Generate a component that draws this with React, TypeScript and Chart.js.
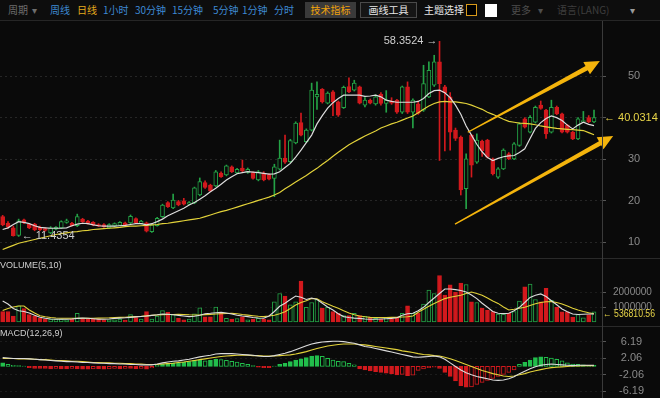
import React, { useEffect, useRef } from "react";
import { Chart, registerables } from "chart.js";

Chart.register(...registerables);

// ---------------- DATA ----------------
const categories = Array.from({ length: 113 }, (_, i) => `${i + 1}`);

const opens = [16.2, 14.6, 13.5, 11.7, 15.4, 14.4, 14.4, 13.7, 13.3, 12.3,
  13.2, 13.5, 14.8, 14.6, 14.0, 15.6, 15.1, 14.8, 14.3, 14.3,
  13.5, 13.9, 14.1, 14.7, 14.7, 15.7, 14.5, 14.7, 12.6, 14.0,
  16.2, 19.6, 18.3, 19.8, 20.0, 19.2, 19.5, 21.4, 24.4, 23.8,
  23.6, 26.7, 26.2, 28.2, 26.7, 27.9, 26.8, 26.8, 25.0, 26.7,
  26.3, 25.4, 27.6, 30.3, 29.4, 33.9, 38.8, 34.2, 37.0, 45.0,
  46.8, 43.5, 46.2, 43.8, 42.4, 47.5, 46.6, 47.4, 43.0, 44.2,
  43.3, 45.6, 43.4, 44.0, 44.2, 41.3, 47.4, 41.3, 43.3, 41.8,
  45.0, 47.8, 53.4, 47.4, 45.0, 37.0, 35.3, 22.9, 35.8, 29.3,
  34.3, 34.6, 30.1, 25.7, 27.7, 31.3, 30.1, 33.3, 39.7, 36.5,
  38.9, 43.0, 41.8, 36.5, 42.5, 40.9, 38.2, 36.5, 34.9, 39.0,
  40.0, 39.0];
const highs = [16.5, 15.0, 13.9, 15.6, 15.6, 14.6, 14.6, 13.9, 13.5, 13.8,
  13.8, 15.2, 15.6, 14.8, 16.8, 15.8, 15.3, 15.0, 14.5, 14.5,
  14.5, 14.7, 15.0, 14.9, 16.6, 15.9, 15.3, 14.9, 14.4, 16.0,
  19.2, 19.8, 21.6, 20.1, 20.6, 19.8, 23.3, 25.5, 24.8, 24.0,
  27.3, 27.0, 28.6, 28.4, 27.8, 29.8, 27.9, 27.0, 27.3, 27.0,
  26.5, 28.8, 34.6, 35.8, 34.8, 39.0, 41.1, 37.3, 48.3, 48.6,
  47.0, 46.2, 46.5, 44.0, 47.6, 49.6, 49.0, 47.6, 44.8, 44.5,
  45.5, 46.0, 46.5, 44.8, 44.4, 47.6, 48.6, 44.5, 44.0, 52.6,
  53.4, 55.0, 58.3524, 47.8, 46.0, 37.5, 35.6, 31.3, 36.0, 36.1,
  34.6, 34.8, 30.3, 28.0, 32.5, 31.6, 34.0, 38.8, 40.0, 40.5,
  42.8, 44.0, 42.0, 44.2, 42.8, 41.1, 38.4, 36.7, 40.0, 41.5,
  40.5, 41.8];
const lows = [14.0, 13.4, 11.5, 11.4354, 14.5, 13.3, 12.8, 12.8, 12.7, 12.1,
  13.0, 13.4, 14.6, 13.9, 13.8, 14.8, 14.4, 14.0, 13.8, 13.6,
  13.4, 13.8, 14.0, 14.0, 14.5, 14.5, 14.4, 12.5, 12.4, 13.9,
  16.0, 18.4, 18.1, 18.8, 19.0, 19.0, 19.3, 21.2, 23.0, 22.2,
  23.4, 25.6, 26.0, 26.8, 26.5, 27.0, 26.6, 25.2, 24.8, 24.8,
  25.0, 21.0, 27.4, 29.0, 29.2, 33.7, 35.6, 34.0, 36.8, 42.0,
  43.5, 43.3, 40.5, 40.3, 42.2, 46.0, 46.4, 43.3, 42.6, 43.3,
  43.0, 43.0, 41.3, 43.2, 41.0, 41.0, 41.0, 37.5, 40.8, 41.5,
  44.8, 47.5, 29.7, 32.0, 32.2, 34.5, 21.4, 18.1, 25.7, 29.0,
  30.7, 30.3, 26.2, 25.4, 27.5, 29.9, 29.9, 33.1, 37.5, 36.3,
  38.7, 42.0, 35.0, 36.3, 40.7, 36.3, 36.3, 34.7, 34.7, 38.8,
  38.8, 38.8];
const closes = [14.2, 13.7, 11.6, 15.2, 14.7, 13.5, 13.0, 13.0, 12.9, 13.5,
  13.6, 15.0, 15.2, 14.0, 16.2, 14.9, 14.6, 14.2, 13.9, 13.7,
  14.3, 14.5, 14.8, 14.1, 16.3, 14.7, 15.1, 12.7, 14.2, 15.8,
  19.0, 18.6, 20.2, 19.0, 19.2, 19.6, 23.1, 24.6, 23.2, 22.4,
  27.0, 25.8, 28.4, 27.0, 27.6, 27.2, 27.6, 25.4, 27.0, 25.0,
  25.2, 28.2, 30.3, 29.3, 34.5, 38.7, 35.8, 37.0, 46.6, 45.6,
  43.8, 45.9, 43.8, 40.6, 47.3, 46.2, 48.3, 43.5, 44.2, 43.5,
  45.0, 43.4, 44.2, 43.5, 41.3, 47.4, 41.3, 44.2, 41.0, 48.2,
  51.4, 53.4, 48.2, 46.0, 36.5, 35.0, 22.6, 30.1, 28.6, 34.6,
  32.0, 30.5, 26.5, 27.7, 32.2, 30.1, 33.7, 38.5, 37.7, 40.1,
  42.5, 42.2, 36.1, 42.5, 40.9, 36.5, 36.5, 34.9, 39.7, 39.3,
  39.0, 40.0314];

const priceMaFast = [13.1, 13.5, 14.3, 15.0, 14.8, 14.5, 14.0, 13.6, 13.5, 13.4,
  13.4, 13.4, 13.5, 14.0, 14.4, 14.6, 14.5, 14.2, 14.0, 13.9,
  13.9, 13.9, 14.0, 14.1, 14.3, 14.5, 14.5, 14.2, 14.5, 15.0,
  15.6, 16.4, 17.0, 17.6, 18.2, 19.0, 19.6, 20.4, 21.2, 22.2,
  23.0, 24.0, 25.0, 25.8, 26.5, 26.8, 27.0, 26.9, 26.8, 26.6,
  26.4, 26.5, 27.0, 28.0, 29.0, 30.5, 32.2, 34.0, 35.8, 38.5,
  40.5, 42.3, 43.6, 44.6, 45.4, 45.4, 45.4, 45.4, 45.1, 45.2,
  45.4, 45.0, 44.2, 43.9, 43.7, 43.7, 43.7, 43.7, 43.9, 44.6,
  45.8, 46.5, 46.6, 46.0, 44.8, 43.0, 40.8, 38.0, 35.8, 33.6,
  31.8, 30.4, 29.7, 30.2, 30.6, 30.8, 30.9, 31.6, 32.5, 35.0,
  37.4, 38.8, 39.8, 40.4, 40.0, 39.3, 38.2, 37.3, 38.2, 38.9,
  38.4, 38.1];
const priceMaSlow = [8.3, 8.8, 9.3, 9.8, 10.1, 10.4, 10.7, 11.0, 11.3, 11.6,
  11.9, 12.1, 12.3, 12.5, 12.6, 12.8, 12.9, 13.1, 13.2, 13.3,
  13.4, 13.5, 13.6, 13.8, 13.9, 13.9, 14.0, 14.1, 14.2, 14.3,
  14.5, 14.6, 14.8, 15.0, 15.2, 15.4, 15.6, 15.8, 16.2, 16.6,
  17.0, 17.4, 17.7, 18.1, 18.5, 18.9, 19.3, 19.7, 20.1, 20.5,
  20.9, 21.4, 22.0, 22.9, 23.7, 24.5, 25.3, 26.1, 27.0, 27.8,
  28.8, 29.7, 30.7, 31.7, 32.6, 33.5, 34.2, 34.9, 35.6, 36.2,
  36.8, 37.5, 38.0, 38.5, 38.9, 39.4, 39.9, 40.4, 41.2, 42.0,
  42.8, 43.4, 43.8, 43.9, 43.8, 43.8, 43.6, 43.4, 43.0, 42.5,
  42.0, 41.3, 40.8, 40.2, 39.6, 39.1, 38.9, 38.7, 38.6, 38.5,
  38.3, 38.0, 37.8, 37.6, 37.4, 37.3, 37.2, 37.1, 37.0, 36.9,
  36.4, 35.9];

const volumes = [690000, 700000, 400000, 1070000, 900000, 500000, 400000, 250000, 200000, 200000,
  200000, 200000, 150000, 200000, 580000, 200000, 200000, 200000, 200000, 150000,
  150000, 150000, 200000, 120000, 500000, 300000, 200000, 690000, 200000, 400000,
  760000, 650000, 500000, 250000, 150000, 200000, 550000, 950000, 350000, 350000,
  1000000, 650000, 250000, 200000, 220000, 350000, 150000, 200000, 250000, 200000,
  150000, 1350000, 1900000, 1730000, 1150000, 1350000, 2730000, 980000, 1300000, 1500000,
  930000, 980000, 700000, 580000, 420000, 420000, 580000, 420000, 380000, 300000,
  250000, 200000, 300000, 200000, 250000, 580000, 1070000, 580000, 580000, 1200000,
  2130000, 1900000, 3100000, 1800000, 2470000, 2000000, 2600000, 2500000, 1350000, 1300000,
  930000, 800000, 700000, 530000, 530000, 600000, 700000, 1400000, 2350000, 2530000,
  1500000, 1350000, 2250000, 1450000, 980000, 670000, 670000, 330000, 500000, 270000,
  500000, 670000];
const volMa5 = [1400000, 1200000, 900000, 750000, 700000, 600000, 450000, 320000, 250000, 200000,
  180000, 180000, 180000, 200000, 240000, 260000, 250000, 220000, 180000, 180000,
  200000, 240000, 260000, 280000, 310000, 340000, 370000, 400000, 440000, 480000,
  530000, 520000, 480000, 440000, 400000, 360000, 380000, 450000, 550000, 580000,
  620000, 640000, 600000, 530000, 450000, 400000, 360000, 300000, 270000, 250000,
  400000, 700000, 1050000, 1250000, 1500000, 1730000, 1650000, 1500000, 1600000, 1500000,
  1250000, 1000000, 800000, 550000, 360000, 300000, 260000, 240000, 200000, 180000,
  180000, 200000, 220000, 240000, 280000, 450000, 550000, 580000, 750000, 980000,
  1300000, 1600000, 1900000, 2200000, 2200000, 2160000, 2100000, 2000000, 1800000, 1560000,
  1250000, 980000, 700000, 580000, 560000, 580000, 750000, 980000, 1300000, 1640000,
  1780000, 1870000, 1700000, 1420000, 1150000, 870000, 680000, 530000, 500000, 520000,
  530000, 536810.56];
const volMa10 = [760000, 900000, 1000000, 1070000, 1070000, 800000, 600000, 420000, 350000, 300000,
  270000, 250000, 250000, 250000, 250000, 250000, 250000, 250000, 260000, 270000,
  280000, 300000, 310000, 320000, 340000, 360000, 380000, 410000, 440000, 470000,
  490000, 500000, 500000, 510000, 500000, 480000, 470000, 470000, 490000, 510000,
  530000, 550000, 570000, 580000, 550000, 500000, 460000, 420000, 380000, 360000,
  400000, 450000, 550000, 690000, 900000, 1130000, 1300000, 1420000, 1560000, 1550000,
  1350000, 1200000, 1050000, 910000, 750000, 600000, 480000, 400000, 350000, 310000,
  300000, 300000, 300000, 310000, 310000, 330000, 350000, 400000, 650000, 850000,
  1050000, 1240000, 1400000, 1560000, 1650000, 1720000, 1780000, 1900000, 2000000, 1900000,
  1780000, 1600000, 1400000, 1240000, 1000000, 800000, 850000, 920000, 980000, 1100000,
  1220000, 1300000, 1350000, 1360000, 1300000, 1200000, 1060000, 920000, 800000, 700000,
  620000, 550000];

const macdHist = [0.9, 0.5, 0.3, 0.2, 0.1, -0.3, -0.5, -0.5, -0.5, -0.6,
  -0.5, -0.6, -0.6, -0.5, -0.6, -0.7, -0.7, -0.6, -0.6, -0.7,
  -0.6, -0.5, -0.6, -0.5, -0.5, -0.6, -0.5, -0.7, -0.4, 0.3,
  0.6, 0.8, 0.9, 0.9, 1.0, 1.2, 1.5, 1.6, 1.4, 1.5,
  1.8, 1.7, 1.5, 1.3, 1.1, 0.8, 0.5, 0.2, -0.2, -0.3,
  -0.3, 0.1, 0.5, 0.8, 1.2, 1.6, 1.9, 2.2, 2.6, 2.7,
  2.5, 2.0, 1.6, 1.3, 1.2, 0.8, 0.4, -0.6, -0.9, -1.1,
  -1.3, -1.5, -1.7, -1.9, -2.1, -2.0, -2.3, -2.2, -1.0, -0.6,
  -0.3, -0.2, -0.5, -1.5, -2.5, -3.6, -4.8, -5.2, -5.1, -4.5,
  -4.0, -3.5, -3.0, -2.5, -2.0, -1.5, -0.9, 0.5, 1.0, 1.6,
  2.2, 2.4, 2.3, 2.1, 1.8, 1.4, 0.9, 0.6, 0.5, 0.4,
  0.3, 0.3];
const macdDif = [2.2, 2.1, 2.0, 2.0, 2.0, 1.9, 1.8, 1.7, 1.6, 1.5,
  1.4, 1.3, 1.2, 1.2, 1.1, 1.0, 1.0, 0.9, 0.8, 0.8,
  0.7, 0.7, 0.6, 0.6, 0.5, 0.5, 0.4, 0.4, 0.4, 0.6,
  0.9, 1.1, 1.3, 1.4, 1.6, 1.8, 2.1, 2.4, 2.6, 2.8,
  3.1, 3.2, 3.2, 3.2, 3.1, 3.0, 2.9, 2.8, 2.6, 2.5,
  2.5, 2.7, 3.0, 3.3, 3.7, 4.2, 4.7, 5.2, 5.6, 5.9,
  6.1, 6.2, 6.3, 6.3, 6.2, 6.0, 5.8, 5.4, 5.0, 4.8,
  4.5, 4.2, 3.9, 3.6, 3.3, 3.0, 2.7, 2.4, 2.3, 2.4,
  2.5, 2.6, 2.4, 1.8, 0.9, 0.0, -0.9, -1.6, -2.1, -2.5,
  -2.8, -3.1, -3.4, -3.5, -3.4, -3.1, -2.6, -1.8, -1.2, -0.6,
  -0.1, 0.3, 0.5, 0.6, 0.5, 0.4, 0.3, 0.2, 0.3, 0.3,
  0.3, 0.3];
const macdDea = [2.0, 2.0, 2.0, 1.9, 1.9, 1.9, 1.8, 1.7, 1.7, 1.6,
  1.5, 1.5, 1.4, 1.3, 1.3, 1.2, 1.1, 1.0, 1.0, 0.9,
  0.9, 0.8, 0.8, 0.7, 0.7, 0.6, 0.6, 0.5, 0.5, 0.5,
  0.6, 0.7, 0.8, 1.0, 1.1, 1.3, 1.5, 1.7, 1.9, 2.1,
  2.3, 2.5, 2.6, 2.7, 2.8, 2.8, 2.8, 2.7, 2.7, 2.6,
  2.6, 2.6, 2.7, 2.8, 2.9, 3.1, 3.4, 3.7, 4.1, 4.5,
  4.8, 5.1, 5.3, 5.5, 5.6, 5.6, 5.6, 5.5, 5.4, 5.2,
  5.0, 4.8, 4.6, 4.4, 4.2, 3.9, 3.7, 3.5, 3.2, 3.0,
  2.9, 2.7, 2.6, 2.3, 1.9, 1.5, 1.0, 0.5, 0.0, -0.5,
  -1.0, -1.4, -1.8, -2.1, -2.4, -2.5, -2.4, -2.1, -1.8, -1.4,
  -1.1, -0.8, -0.5, -0.3, -0.2, -0.1, 0.0, 0.1, 0.1, 0.2,
  0.2, 0.2];

const priceTicks = [10, 20, 30, 40, 50];
const volumeTicks = [1000000, 2000000];
const macdTicks = [-6.19, -2.06, 2.06, 6.19];

// trend arrows drawn on the price chart, in [candle index, price]
const trendArrows = [
  { from: [87.3, 36.5], to: [112.1, 53.6] },
  { from: [84.9, 14.4], to: [114.6, 35.6] },
];

// ---------------- STYLE ----------------
const BG = "#0a0a0a";
const UP = "#24a246";
const DOWN = "#d2191d";
const WHITE_LINE = "#dcdcdc";
const YELLOW_LINE = "#e2d23a";
const FONT = '"Liberation Sans", "DejaVu Sans", sans-serif';
const AXIS_W = 58;

const isUp = (i: number) => closes[i] >= opens[i];

function rightAxis(min: number, max: number, tickValues: number[], padding: number, size: number, fmt: (v: number) => string, gridColor: string) {
  return {
    position: "right" as const,
    min,
    max,
    afterBuildTicks: (s: any) => {
      s.ticks = tickValues.map((v) => ({ value: v }));
    },
    afterFit: (s: any) => {
      s.width = AXIS_W;
      s.paddingTop = 0;
      s.paddingBottom = 0;
    },
    ticks: {
      color: "#8a8a8a",
      font: { size: size, family: FONT },
      padding,
      crossAlign: "center" as const,
      autoSkip: false,
      callback: (v: any) => fmt(Number(v)),
    },
    grid: {
      color: gridColor,
      drawTicks: true,
      tickLength: 4,
      tickColor: "#555",
      tickWidth: 1,
    },
    border: { display: false, dash: [2, 3] },
  };
}

const xAxis = {
  type: "category" as const,
  labels: categories,
  display: false,
  offset: true,
  grid: { display: false },
};

function drawArrow(ctx: CanvasRenderingContext2D, x1: number, y1: number, x2: number, y2: number) {
  const dx = x2 - x1, dy = y2 - y1;
  const len = Math.hypot(dx, dy);
  const ux = dx / len, uy = dy / len;
  const nx = -uy, ny = ux;
  const head = 15, hw = 7;
  const bx = x2 - ux * head, by = y2 - uy * head;
  ctx.save();
  ctx.fillStyle = "#f4b40c";
  ctx.beginPath();
  ctx.moveTo(x1 + nx * 0.6, y1 + ny * 0.6);
  ctx.lineTo(bx + nx * 2.4, by + ny * 2.4);
  ctx.lineTo(bx + nx * hw, by + ny * hw);
  ctx.lineTo(x2, y2);
  ctx.lineTo(bx - nx * hw, by - ny * hw);
  ctx.lineTo(bx - nx * 2.4, by - ny * 2.4);
  ctx.lineTo(x1 - nx * 0.6, y1 - ny * 0.6);
  ctx.closePath();
  ctx.fill();
  ctx.restore();
}

// draw text squeezed horizontally to fit a width (the reference uses a narrow face)
function fitText(ctx: CanvasRenderingContext2D, text: string, x: number, y: number, maxW: number) {
  const w = ctx.measureText(text).width;
  const k = w > maxW ? maxW / w : 1;
  ctx.save();
  ctx.translate(x, y);
  ctx.scale(k, 1);
  ctx.fillText(text, 0, 0);
  ctx.restore();
}

const mainPlugin = {
  id: "mainAnnotations",
  afterDatasetsDraw(chart: any) {
    const { ctx, scales } = chart;
    const xs = scales.x, ys = scales.y;
    trendArrows.forEach((a) => {
      drawArrow(ctx, xs.getPixelForValue(a.from[0]), ys.getPixelForValue(a.from[1]), xs.getPixelForValue(a.to[0]), ys.getPixelForValue(a.to[1]));
    });
    let hi = 0, lo = 0;
    highs.forEach((h, i) => { if (h > highs[hi]) hi = i; });
    lows.forEach((l, i) => { if (l < lows[lo]) lo = i; });
    ctx.save();
    ctx.font = `11px ${FONT}`;
    ctx.textBaseline = "middle";
    ctx.fillStyle = "#cfcfcf";
    ctx.textAlign = "right";
    ctx.fillText(`${highs[hi].toFixed(4)} \u2192`, xs.getPixelForValue(hi) - 2, ys.getPixelForValue(highs[hi]));
    ctx.textAlign = "left";
    ctx.fillText(`\u2190 ${lows[lo].toFixed(4)}`, xs.getPixelForValue(lo) + 3, ys.getPixelForValue(lows[lo]));
    const last = closes[closes.length - 1];
    ctx.fillStyle = "#e8d548";
    fitText(ctx, `\u2190 ${last.toFixed(4)}`, chart.chartArea.right + 2, ys.getPixelForValue(last), 54);
    ctx.restore();
  },
};

const volPlugin = {
  id: "volAnnotations",
  afterDatasetsDraw(chart: any) {
    const { ctx, scales } = chart;
    const last = volMa5[volMa5.length - 1];
    ctx.save();
    ctx.font = `11px ${FONT}`;
    ctx.textBaseline = "middle";
    ctx.textAlign = "left";
    ctx.fillStyle = "#e8d548";
    fitText(ctx, `\u2190 ${last.toFixed(2)}`, chart.chartArea.right + 1, scales.y.getPixelForValue(last), 52);
    ctx.restore();
  },
};

const baseOptions = {
  responsive: false,
  maintainAspectRatio: false,
  animation: false as const,
  devicePixelRatio: 1,
  layout: { padding: 0, autoPadding: false },
  plugins: { legend: { display: false }, tooltip: { enabled: false } },
  events: [] as any[],
};

const toolbarItems = [
  { text: "周期", x: 8, color: "#6e6e6e" },
  { text: "▾", x: 32, color: "#6e6e6e" },
  { text: "周线", x: 50, color: "#3d8ad4" },
  { text: "日线", x: 77, color: "#e4aa1c" },
  { text: "1小时", x: 103, color: "#3d8ad4" },
  { text: "30分钟", x: 135, color: "#3d8ad4" },
  { text: "15分钟", x: 172, color: "#3d8ad4" },
  { text: "5分钟", x: 213, color: "#3d8ad4" },
  { text: "1分钟", x: 242, color: "#3d8ad4" },
  { text: "分时", x: 274, color: "#3d8ad4" },
  { text: "主题选择", x: 424, color: "#e6e6e6" },
  { text: "更多", x: 511, color: "#4e4e4e" },
  { text: "▾", x: 538, color: "#4e4e4e" },
  { text: "语言(LANG)", x: 557, color: "#3e3e3e" },
  { text: "▾", x: 630, color: "#9a9a9a" },
];

export default function App() {
  const mainRef = useRef<HTMLCanvasElement | null>(null);
  const volRef = useRef<HTMLCanvasElement | null>(null);
  const macdRef = useRef<HTMLCanvasElement | null>(null);

  useEffect(() => {
    document.body.style.margin = "0";
    document.body.style.background = BG;
    const lastClose = closes[closes.length - 1];

    const main = new Chart(mainRef.current as HTMLCanvasElement, {
      type: "bar",
      data: {
        labels: categories,
        datasets: [
          { type: "line", data: priceMaFast, borderColor: WHITE_LINE, borderWidth: 1.2, pointRadius: 0, order: -2 } as any,
          { type: "line", data: priceMaSlow, borderColor: YELLOW_LINE, borderWidth: 1.2, pointRadius: 0, order: -1 } as any,
          {
            type: "bar",
            data: opens.map((o, i) => [o, closes[i]]),
            backgroundColor: opens.map((_, i) => (isUp(i) ? BG : DOWN)),
            borderColor: opens.map((_, i) => (isUp(i) ? UP : DOWN)),
            borderWidth: 1,
            borderSkipped: false,
            barThickness: 4,
            grouped: false,
            order: 0,
          } as any,
          {
            type: "bar",
            data: lows.map((l, i) => [l, highs[i]]),
            backgroundColor: lows.map((_, i) => (isUp(i) ? UP : DOWN)),
            borderWidth: 0,
            barThickness: 1,
            grouped: false,
            order: 1,
          } as any,
        ],
      },
      options: {
        ...baseOptions,
        scales: {
          x: xAxis,
          y: rightAxis(6.25, 63.0, priceTicks, 22, 11, (v) => (Math.abs(v - lastClose) < 3 ? "" : String(v)), "#262626"),
        },
      } as any,
      plugins: [mainPlugin],
    });

    const vol = new Chart(volRef.current as HTMLCanvasElement, {
      type: "bar",
      data: {
        labels: categories,
        datasets: [
          { type: "line", data: volMa5, borderColor: WHITE_LINE, borderWidth: 1.1, pointRadius: 0, order: -2 } as any,
          { type: "line", data: volMa10, borderColor: YELLOW_LINE, borderWidth: 1.1, pointRadius: 0, order: -1 } as any,
          {
            type: "bar",
            data: volumes,
            backgroundColor: volumes.map((_, i) => (isUp(i) ? BG : DOWN)),
            borderColor: volumes.map((_, i) => (isUp(i) ? UP : DOWN)),
            borderWidth: 1,
            borderSkipped: false,
            barThickness: 4,
            grouped: false,
            order: 0,
          } as any,
        ],
      },
      options: {
        ...baseOptions,
        scales: {
          x: xAxis,
          y: rightAxis(-133333, 4266667, volumeTicks, 7, 10, (v) => String(v), "#1c1c1c"),
        },
      } as any,
      plugins: [volPlugin],
    });

    const macd = new Chart(macdRef.current as HTMLCanvasElement, {
      type: "bar",
      data: {
        labels: categories,
        datasets: [
          { type: "line", data: macdDif, borderColor: WHITE_LINE, borderWidth: 1.1, pointRadius: 0, order: -2 } as any,
          { type: "line", data: macdDea, borderColor: YELLOW_LINE, borderWidth: 1.1, pointRadius: 0, order: -1 } as any,
          {
            type: "bar",
            data: macdHist,
            backgroundColor: macdHist.map((h, i) =>
              i > 0 && Math.abs(h) < Math.abs(macdHist[i - 1]) ? BG : h >= 0 ? "#22bf4c" : DOWN
            ),
            borderColor: macdHist.map((h) => (h >= 0 ? "#22bf4c" : DOWN)),
            borderWidth: 1,
            borderSkipped: false,
            barThickness: 4,
            grouped: false,
            order: 0,
          } as any,
        ],
      },
      options: {
        ...baseOptions,
        scales: {
          x: xAxis,
          y: rightAxis(-7.9, 10.12, macdTicks, 13, 11, (v) => v.toFixed(2), "#1c1c1c"),
        },
      } as any,
    });

    return () => {
      main.destroy();
      vol.destroy();
      macd.destroy();
    };
  }, []);

  const cjk = '"Noto Sans CJK SC", "Noto Sans", sans-serif';

  return (
    <div
      style={{
        position: "fixed",
        left: 0,
        top: 0,
        width: 660,
        height: 398,
        background: BG,
        overflow: "hidden",
        fontFamily: cjk,
      }}
    >
      {/* toolbar */}
      <div style={{ position: "absolute", left: 0, top: 0, width: 660, height: 20, background: "#0d0d0d", borderBottom: "1px solid #262626" }}>
        {toolbarItems.map((t, i) => (
          <span
            key={i}
            style={{ position: "absolute", left: t.x, top: 3, fontSize: 10, lineHeight: "14px", color: t.color, whiteSpace: "nowrap" }}
          >
            {t.text}
          </span>
        ))}
        <div
          style={{
            position: "absolute", left: 305, top: 2, width: 51, height: 16, background: "#3a3a3a",
            color: "#f0a20c", fontSize: 10, lineHeight: "16px", textAlign: "center",
          }}
        >
          技术指标
        </div>
        <div
          style={{
            position: "absolute", left: 360, top: 2, width: 55, height: 14, background: "#151515",
            border: "1px solid #4a4a4a", color: "#e8e8e8", fontSize: 10, lineHeight: "14px", textAlign: "center",
          }}
        >
          画线工具
        </div>
        <div style={{ position: "absolute", left: 466, top: 4, width: 9, height: 10, border: "1.5px solid #d99a1a", background: "#000" }} />
        <div style={{ position: "absolute", left: 485, top: 4, width: 12, height: 13, background: "#ffffff" }} />
      </div>

      <canvas ref={mainRef} width={660} height={236} style={{ position: "absolute", left: 0, top: 22 }} />
      <canvas ref={volRef} width={660} height={66} style={{ position: "absolute", left: 0, top: 258 }} />
      <canvas ref={macdRef} width={660} height={72} style={{ position: "absolute", left: 0, top: 326 }} />

      {/* panel separators and axis line */}
      <div style={{ position: "absolute", left: 0, top: 258, width: 660, height: 1, background: "#2a2a2a" }} />
      <div style={{ position: "absolute", left: 0, top: 326, width: 660, height: 1, background: "#2a2a2a" }} />
      <div style={{ position: "absolute", left: 602, top: 21, width: 1, height: 377, background: "#3a3a3a" }} />

      <div style={{ position: "absolute", left: 0, top: 259, fontFamily: FONT, fontSize: 9, lineHeight: "12px", color: "#cfcfcf" }}>
        VOLUME(5,10)
      </div>
      <div style={{ position: "absolute", left: 0, top: 327, fontFamily: FONT, fontSize: 9, lineHeight: "12px", color: "#cfcfcf" }}>
        MACD(12,26,9)
      </div>
    </div>
  );
}
